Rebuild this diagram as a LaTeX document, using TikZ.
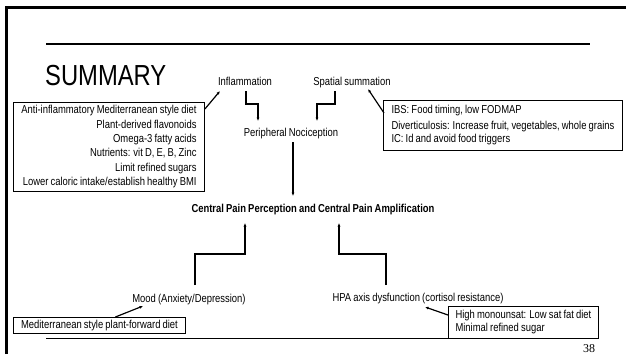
\documentclass[tikz,border=0pt]{standalone}
\usepackage{fontspec}
\setmainfont{Liberation Sans}[FakeStretch=0.82,WordSpace=0.82]
\newfontfamily\numfont{Liberation Serif}
\usetikzlibrary{arrows.meta,calc}
\begin{document}
\begin{tikzpicture}[x=1pt,y=-1pt,
  lbl/.style={inner sep=0pt, anchor=base, font=\fontsize{11.5}{13}\selectfont},
  tbox/.style={draw, line width=0.9pt, inner xsep=4pt, inner ysep=3pt, anchor=north west, font=\fontsize{11.5}{14.4}\selectfont},
  conn/.style={line width=1.2pt, -{Latex[length=3.5pt,width=3pt]}},
  rulefr/.style={line width=3pt},
  ]
\useasboundingbox (0,0) rectangle (626,354);
\fill[white] (0,0) rectangle (626,354);
\draw[rulefr] (6.5,354) -- (6.5,7.5) -- (626,7.5);
\draw[line width=2pt] (46,43.5) -- (590,43.5);
\draw[line width=1pt] (46,338.5) -- (590,338.5);

\node[lbl, anchor=base west, font=\fontsize{29}{32}\selectfont] (title) at (45,85) {SUMMARY};
\node[lbl] (infl) at (245,85) {Inflammation};
\node[lbl] (spat) at (352,85) {Spatial summation};
\node[lbl] (periph) at (291,136) {Peripheral Nociception};
\node[lbl, font=\bfseries\fontsize{11.5}{13}\selectfont] (central) at (313,212) {Central Pain Perception and Central Pain Amplification};
\node[lbl] (mood) at (189,302) {Mood (Anxiety/Depression)};
\node[lbl] (hpa) at (418,301) {HPA axis dysfunction (cortisol resistance)};

\node[tbox, align=right, minimum width=191, minimum height=87] (anti) at (13,102)
  {Anti-inflammatory Mediterranean style diet\\Plant-derived flavonoids\\Omega-3 fatty acids\\Nutrients: vit D, E, B, Zinc\\Limit refined sugars\\Lower caloric intake/establish healthy BMI};
\node[tbox, align=left, minimum width=239, minimum height=50, font=\fontsize{11.5}{13}\selectfont] (ibs) at (383,100)
  {IBS: Food timing, low FODMAP\\[3pt]Diverticulosis: Increase fruit, vegetables, whole grains\\IC: Id and avoid food triggers};
\node[tbox, inner ysep=2pt, align=left, minimum width=172, minimum height=16] (med) at (13,317)
  {Mediterranean style plant-forward diet};
\node[tbox, align=left, minimum width=150, minimum height=32, font=\fontsize{11.5}{13}\selectfont] (high) at (448,306)
  {High monounsat: Low sat fat diet\\Minimal refined sugar};
\node[anchor=base, inner sep=0pt, font=\numfont\fontsize{12}{12}\selectfont] (pg) at (589,352) {38};

\draw[conn] ($(anti.north east)+(0,7)$) -- ($(infl.base)+(-25,6)$);
\draw[conn] ($(ibs.north west)+(1,13)$) -- ($(spat.base)+(16,4)$);
\draw[conn] ($(infl.base)+(1,6)$) -- ++(0,13) -| ($(periph.base)+(-33,-15)$);
\draw[conn] ($(spat.base)+(-17,6)$) -- ++(0,13) -| ($(periph.base)+(26,-15)$);
\draw[conn] ($(periph.base)+(2,6)$) -- ($(central.base)+(-20,-16)$);
\draw[conn] ($(mood.base)+(6,-17)$) -- ++(0,-31) -| ($(central.base)+(-68,11)$);
\draw[conn] ($(hpa.base)+(-32,-16)$) -- ++(0,-31) -| ($(central.base)+(26,11)$);
\draw[conn] ($(med.north)+(16,0)$) -- ($(mood.base)+(-46,4)$);
\draw[conn] ($(high.north west)+(0,9)$) -- ($(hpa.base)+(7,6)$);
\end{tikzpicture}
\end{document}
